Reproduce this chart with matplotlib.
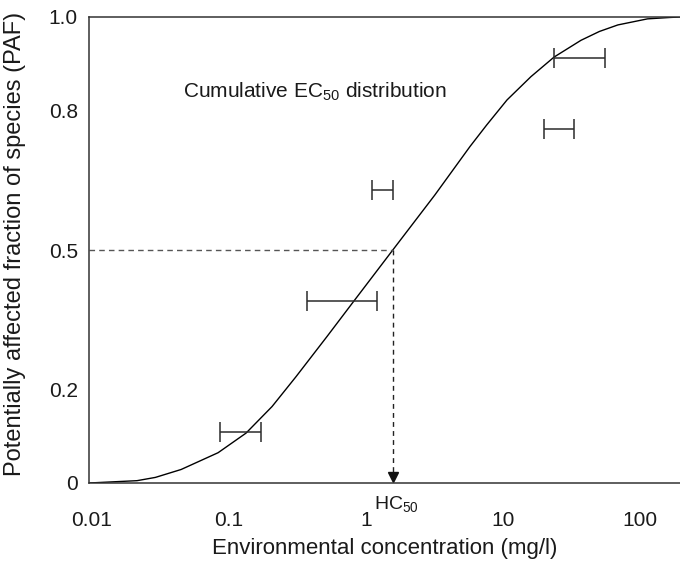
import numpy as np
import matplotlib
matplotlib.use('Agg')
import matplotlib.pyplot as plt

plt.rcParams['font.family'] = ['Liberation Sans', 'DejaVu Sans']
plt.rcParams['mathtext.default'] = 'regular'

# cumulative EC50 curve (mg/l, PAF)
curve_x = [0.0095, 0.0213, 0.029, 0.0447, 0.0832, 0.133, 0.206, 0.308, 0.518, 0.804,
           1.55, 3.18, 5.74, 7.59, 10.7, 16.0, 23.6, 37.1, 50.6, 69.0, 113.5, 165.6, 196]
curve_y = [0.0, 0.005, 0.012, 0.029, 0.065, 0.107, 0.164, 0.228, 0.314, 0.388,
           0.498, 0.618, 0.722, 0.768, 0.822, 0.872, 0.914, 0.950, 0.969, 0.983, 0.996, 0.999, 1.0]

# EC50 ranges of the species
ec_lo = [0.0859, 0.371, 1.106, 19.9, 23.6]
ec_hi = [0.171, 1.20, 1.574, 33.0, 55.6]
ec_y  = [0.109, 0.391, 0.629, 0.760, 0.912]

hc50 = 1.574

xticks = [0.01, 0.1, 1, 10, 100]
xticklabels = ['0.01', '0.1', '1', '10', '100']
yticks = [0, 0.2, 0.5, 0.8, 1.0]
yticklabels = ['0', '0.2', '0.5', '0.8', '1.0']

fig = plt.figure(figsize=(6.8, 5.61), dpi=100)
ax = fig.add_axes([89/680, 78/561, 591/680, 466/561])

ax.set_xscale('log')
ax.set_xlim(0.0095, 196)
ax.set_ylim(0, 1.0)

# curve
ax.plot(curve_x, curve_y, color='black', lw=1.0, solid_joinstyle='round')

# horizontal ranges with caps
for lo, hi, y in zip(ec_lo, ec_hi, ec_y):
    ax.errorbar([lo], [y], xerr=[[0], [hi - lo]], fmt='none', ecolor='#2b2b2b',
                elinewidth=1.1, capsize=7, capthick=1.1)

# HC50 guide lines
ax.plot([0.0095, hc50], [0.5, 0.5], color='#555555', lw=1.0, ls=(0, (4, 3)))
ax.plot([hc50, hc50], [0.5, 0.02], color='#222222', lw=1.0, ls=(0, (3.5, 3)))
ax.plot([hc50], [0.012], marker='v', color='#111111', markersize=7, clip_on=False)

ax.text(0.0461, 0.839, 'Cumulative EC$_{50}$ distribution', fontsize=15,
        ha='left', va='center', color='#1a1a1a')
ax.text(hc50 * 1.06, -0.046, 'HC$_{50}$', fontsize=14, ha='center', va='center',
        color='#1a1a1a', clip_on=False)

ax.set_xticks(xticks)
ax.set_xticklabels(xticklabels)
ax.set_yticks(yticks)
ax.set_yticklabels(yticklabels)
ax.minorticks_off()
ax.tick_params(axis='x', length=0, pad=20, labelsize=15, colors='#1a1a1a')
ax.tick_params(axis='y', length=0, pad=8, labelsize=15, colors='#1a1a1a')

ax.set_xlabel('Environmental concentration (mg/l)', fontsize=16, labelpad=6, color='#1a1a1a')
ax.set_ylabel('Potentially affected fraction of species (PAF)', fontsize=17, color='#1a1a1a')
ax.yaxis.set_label_coords(-0.107, 0.513)

for s in ['left', 'bottom', 'top']:
    ax.spines[s].set_color('#333333')
    ax.spines[s].set_linewidth(1.1)
ax.spines['right'].set_visible(False)

fig.savefig('out.png', dpi=100)
